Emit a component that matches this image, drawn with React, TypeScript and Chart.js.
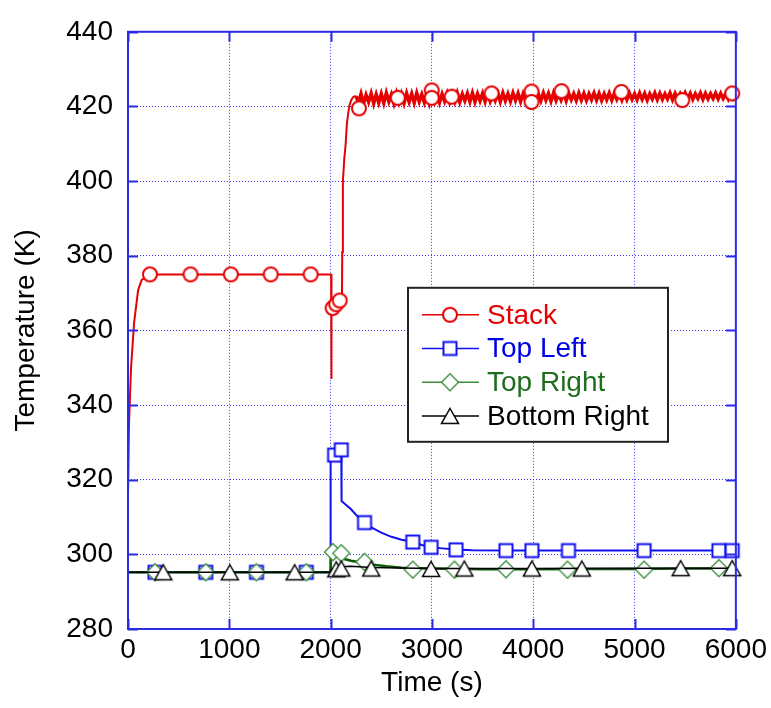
import { useEffect, useRef } from 'react';
import { Chart, registerables } from 'chart.js';

Chart.register(...registerables);

// ---------------- data ----------------
const seriesNames = ['Stack', 'Top Left', 'Top Right', 'Bottom Right'];
const timeTicks = [0, 1000, 2000, 3000, 4000, 5000, 6000];
const tempTicks = [280, 300, 320, 340, 360, 380, 400, 420, 440];

// Stack (red, circles)
const stackLineTime = [
  0, 10, 30, 60, 100, 135, 217, 600, 1000, 1400, 1800, 2005, 2007, 2010, 2020, 2055, 2090, 2112,
  2115, 2121, 2135, 2148, 2161, 2175, 2187, 2205, 2225,
  2250, 2275, 2300, 2325, 2350, 2375, 2400, 2425, 2450, 2475,
  2500, 2525, 2550, 2575, 2600, 2625, 2650, 2675, 2700, 2725,
  2750, 2775, 2800, 2825, 2850, 2875, 2900, 2925, 2950, 2975,
  3000, 3025, 3050, 3075, 3100, 3125, 3150, 3175, 3200, 3225,
  3250, 3275, 3300, 3325, 3350, 3375, 3400, 3425, 3450, 3475,
  3500, 3525, 3550, 3575, 3600, 3625, 3650, 3675, 3700, 3725,
  3750, 3775, 3800, 3825, 3850, 3875, 3900, 3925, 3950, 3975,
  4000, 4025, 4050, 4075, 4100, 4125, 4150, 4175, 4200, 4225,
  4250, 4275, 4300, 4325, 4350, 4375, 4400, 4425, 4450, 4475,
  4500, 4525, 4550, 4575, 4600, 4625, 4650, 4675, 4700, 4725,
  4750, 4775, 4800, 4825, 4850, 4875, 4900, 4925, 4950, 4975,
  5000, 5025, 5050, 5075, 5100, 5125, 5150, 5175, 5200, 5225,
  5250, 5275, 5300, 5325, 5350, 5375, 5400, 5425, 5450, 5475,
  5500, 5525, 5550, 5575, 5600, 5625, 5650, 5675, 5700, 5725,
  5750, 5775, 5800, 5825, 5850, 5875, 5900, 5925, 5950, 5975,
  6000,
];
const stackLineTemp = [
  316, 335, 350, 362, 370.8, 373.5, 375, 375, 375, 375, 375, 375, 347, 364, 366, 367, 368, 369,
  381, 400, 406, 409.8, 415.5, 418.5, 420.4, 421.8, 422.6,
  422.8, 421.0, 423.4, 420.7, 423.1, 421.2, 423.5, 420.8, 423.2, 421.0,
  423.4, 420.9, 423.6, 421.3, 423.2, 420.8, 423.5, 421.1, 423.3, 420.9,
  423.5, 421.2, 423.4, 421.0, 423.6, 421.3, 423.2, 421.1, 423.5, 420.9,
  423.4, 421.3, 423.6, 421.1, 423.3, 421.4, 423.5, 421.2, 423.4, 421.3,
  423.6, 421.2, 423.3, 421.5, 423.5, 421.3, 423.6, 421.2, 423.4, 421.5,
  423.5, 421.3, 423.6, 421.4, 423.3, 421.6, 423.5, 421.3, 423.6, 421.5,
  423.4, 421.4, 423.6, 421.6, 423.5, 421.3, 423.4, 421.6, 423.6, 421.4,
  423.5, 421.6, 423.4, 421.5, 423.6, 421.7, 423.5, 421.4, 423.6, 421.6,
  423.4, 421.7, 423.6, 421.5, 423.5, 421.8, 423.4, 421.6, 423.6, 421.7,
  423.5, 421.6, 423.4, 421.8, 423.6, 421.7, 423.5, 421.6, 423.4, 421.8,
  423.6, 421.7, 423.5, 421.9, 423.4, 421.7, 423.6, 421.8, 423.5, 421.9,
  423.4, 421.8, 423.6, 421.9, 423.5, 421.7, 423.4, 422.0, 423.6, 421.8,
  423.5, 421.9, 423.4, 422.0, 423.6, 421.8, 423.5, 422.0, 423.4, 421.9,
  423.6, 422.0, 423.5, 421.9, 423.4, 422.1, 423.6, 421.9, 423.5, 422.0,
  423.4, 422.1, 423.6, 422.0, 423.5, 422.1, 423.4, 422.0, 423.6, 422.1,
  423.0,
];
const stackMarkTime = [217, 617, 1015, 1409, 1803, 2020, 2055, 2090, 2279, 2663, 2998, 2998, 3195, 3589, 3983, 3983, 4279, 4870, 5471, 5964];
const stackMarkTemp = [375, 375, 375, 375, 375, 366, 367, 368, 419.5, 422.3, 424.3, 422.3, 422.6, 423.5, 424.0, 421.2, 424.1, 423.9, 421.7, 423.5];

// Top Left (blue, squares)
const topLeftLineTime = [0, 1999, 2000, 2039, 2105, 2108, 2150, 2197, 2250, 2335, 2401, 2500, 2600, 2700, 2811, 2900, 2992, 3100, 3238, 3400, 3731, 4500, 6000];
const topLeftLineTemp = [295.2, 295.2, 326, 326.6, 328, 314.3, 313.3, 312.2, 310.6, 308.5, 307.2, 305.8, 304.7, 303.9, 303.3, 302.5, 301.9, 301.6, 301.3, 301.1, 301.0, 301.0, 301.0];
const topLeftMarkTime = [266, 768, 1268, 1760, 2039, 2105, 2335, 2811, 2992, 3238, 3731, 3987, 4348, 5094, 5833, 5964];
const topLeftMarkTemp = [295.2, 295.2, 295.2, 295.2, 326.6, 328.0, 308.5, 303.3, 301.9, 301.2, 301.0, 301.0, 301.0, 301.0, 301.0, 301.0];

// Top Right (green, diamonds)
const topRightLineTime = [0, 1999, 2005, 2023, 2060, 2100, 2200, 2300, 2400, 2550, 2700, 3000, 3500, 4000, 4500, 5000, 5500, 6000];
const topRightLineTemp = [295.2, 295.2, 300.8, 300.5, 300.0, 299.0, 298.3, 297.8, 297.3, 296.8, 296.4, 296.2, 296.0, 296.0, 296.1, 296.1, 296.2, 296.2];
const topRightMarkTime = [266, 768, 1268, 1760, 2023, 2105, 2335, 2811, 3222, 3731, 4338, 5094, 5833];
const topRightMarkTemp = [295.2, 295.2, 295.2, 295.2, 300.6, 300.3, 298.0, 295.9, 295.9, 296.0, 295.9, 295.9, 296.3];

// Bottom Right (black, triangles)
const bottomRightLineTime = [0, 1999, 2010, 2056, 2105, 2200, 2400, 3000, 4000, 5000, 6000];
const bottomRightLineTemp = [295.2, 295.2, 296.0, 296.3, 296.7, 296.8, 296.5, 296.2, 296.2, 296.3, 296.3];
const bottomRightMarkTime = [348, 1005, 1645, 2056, 2105, 2401, 2992, 3320, 3987, 4480, 5455, 5964];
const bottomRightMarkTemp = [295.2, 295.2, 295.2, 296.0, 296.2, 296.2, 296.1, 296.2, 296.2, 296.2, 296.3, 296.3];

// ---------------- styles ----------------
const FONT_FAMILY = '"Liberation Sans", Arial, Helvetica, sans-serif';
const RED = '#e60000';
const BLUE = '#1010f0';
const GREEN_MARK = '#3c8c3c';
const GREEN_LINE = '#0a5c0a';
const BLACK = '#000000';
const AXIS = '#2b2be6';
const GRID = '#3a3af2';
const NOISY_FROM = 2240;

function pts(xs: number[], ys: number[]) {
  return xs.map((x, i) => ({ x, y: ys[i] }));
}

function makeMarker(kind: string, stroke: string, lw: number) {
  const c = document.createElement('canvas');
  c.width = 22;
  c.height = 22;
  const g = c.getContext('2d')!;
  const m = 11;
  g.lineWidth = lw;
  g.strokeStyle = stroke;
  g.fillStyle = '#ffffff';
  g.beginPath();
  if (kind === 'circle') {
    g.arc(m, m, 7, 0, Math.PI * 2);
  } else if (kind === 'square') {
    g.rect(m - 6.5, m - 6.5, 13, 13);
  } else if (kind === 'diamond') {
    g.moveTo(m, m - 8.5);
    g.lineTo(m + 8.5, m);
    g.lineTo(m, m + 8.5);
    g.lineTo(m - 8.5, m);
    g.closePath();
  } else {
    g.moveTo(m, m - 7.5);
    g.lineTo(m + 8.5, m + 7.5);
    g.lineTo(m - 8.5, m + 7.5);
    g.closePath();
  }
  g.fill();
  g.stroke();
  return c;
}

export default function App() {
  const ref = useRef<HTMLCanvasElement>(null);

  useEffect(() => {
    const canvas = ref.current!;
    const markers = {
      circle: makeMarker('circle', RED, 2),
      square: makeMarker('square', BLUE, 2),
      diamond: makeMarker('diamond', GREEN_MARK, 1.3),
      triangle: makeMarker('triangle', BLACK, 1.5),
    };

    const legendItems = [
      { label: seriesNames[0], line: RED, text: RED, marker: markers.circle },
      { label: seriesNames[1], line: BLUE, text: '#0000e6', marker: markers.square },
      { label: seriesNames[2], line: GREEN_MARK, text: '#1f6e1f', marker: markers.diamond },
      { label: seriesNames[3], line: BLACK, text: BLACK, marker: markers.triangle },
    ];

    const framePlugin = {
      id: 'frame',
      afterDatasetsDraw(chart: any) {
        const { ctx, chartArea, scales } = chart;
        const { left, right, top, bottom } = chartArea;
        ctx.save();
        ctx.strokeStyle = AXIS;
        ctx.lineWidth = 2;
        ctx.strokeRect(left, top, right - left, bottom - top);
        ctx.beginPath();
        for (const t of scales.x.ticks) {
          const px = Math.round(scales.x.getPixelForValue(t.value)) + 0.5;
          ctx.moveTo(px, bottom);
          ctx.lineTo(px, bottom - 10);
          ctx.moveTo(px, top);
          ctx.lineTo(px, top + 10);
        }
        for (const t of scales.y.ticks) {
          const py = Math.round(scales.y.getPixelForValue(t.value)) + 0.5;
          ctx.moveTo(left, py);
          ctx.lineTo(left + 10, py);
          ctx.moveTo(right, py);
          ctx.lineTo(right - 10, py);
        }
        ctx.stroke();
        ctx.restore();
      },
    };

    const legendPlugin = {
      id: 'customLegend',
      afterDraw(chart: any) {
        const { ctx, chartArea } = chart;
        const bx = chartArea.left + 280;
        const by = chartArea.top + 256;
        const bw = 260;
        const bh = 154;
        ctx.save();
        ctx.fillStyle = '#ffffff';
        ctx.fillRect(bx, by, bw, bh);
        ctx.strokeStyle = '#222222';
        ctx.lineWidth = 2;
        ctx.strokeRect(bx, by, bw, bh);
        ctx.font = `28px ${FONT_FAMILY}`;
        ctx.textBaseline = 'middle';
        ctx.textAlign = 'left';
        legendItems.forEach((it, i) => {
          const cy = by + 27 + i * 33.7;
          ctx.strokeStyle = it.line;
          ctx.lineWidth = 1.5;
          ctx.beginPath();
          ctx.moveTo(bx + 14, cy);
          ctx.lineTo(bx + 71, cy);
          ctx.stroke();
          ctx.drawImage(it.marker, bx + 42 - 11, cy - 11);
          ctx.fillStyle = it.text;
          ctx.fillText(it.label, bx + 79, cy + 1);
        });
        ctx.restore();
      },
    };

    const lineDs = (label: string, xs: number[], ys: number[], color: string, width: number, order: number, extra: any = {}) => ({
      label,
      data: pts(xs, ys),
      showLine: true,
      borderColor: color,
      backgroundColor: color,
      borderWidth: width,
      pointRadius: 0,
      pointHoverRadius: 0,
      tension: 0,
      order,
      ...extra,
    });
    const markDs = (label: string, xs: number[], ys: number[], style: any, order: number) => ({
      label,
      data: pts(xs, ys),
      showLine: false,
      pointStyle: style,
      pointRadius: 8,
      pointHoverRadius: 8,
      clip: false,
      order,
    });

    const font = { family: FONT_FAMILY, size: 28 };

    const chart = new Chart(canvas, {
      type: 'scatter',
      data: {
        datasets: [
          markDs(seriesNames[0] + ' markers', stackMarkTime, stackMarkTemp, markers.circle, 0),
          lineDs(seriesNames[0], stackLineTime, stackLineTemp, RED, 2, 1, {
            segment: { borderWidth: (c: any) => (c.p0.parsed.x >= NOISY_FROM ? 3.5 : 2) },
          }),
          markDs(seriesNames[3] + ' markers', bottomRightMarkTime, bottomRightMarkTemp, markers.triangle, 2),
          lineDs(seriesNames[3], bottomRightLineTime, bottomRightLineTemp, BLACK, 1.5, 3),
          markDs(seriesNames[2] + ' markers', topRightMarkTime, topRightMarkTemp, markers.diamond, 4),
          lineDs(seriesNames[2], topRightLineTime, topRightLineTemp, GREEN_LINE, 2.5, 5),
          markDs(seriesNames[1] + ' markers', topLeftMarkTime, topLeftMarkTemp, markers.square, 6),
          lineDs(seriesNames[1], topLeftLineTime, topLeftLineTemp, BLUE, 2, 7),
        ] as any,
      },
      options: {
        responsive: false,
        animation: false,
        events: [],
        layout: { padding: { top: 26, right: 34, bottom: 0, left: 0 } },
        plugins: {
          legend: { display: false },
          tooltip: { enabled: false },
        },
        scales: {
          x: {
            type: 'linear',
            min: 0,
            max: 6000,
            afterBuildTicks: (s: any) => {
              s.ticks = timeTicks.map((v) => ({ value: v }));
            },
            afterFit: (s: any) => {
              s.height = 79;
            },
            ticks: { font, color: BLACK, padding: 4, maxRotation: 0, autoSkip: false, callback: (v: any) => String(v) },
            grid: { color: GRID, lineWidth: 1, drawTicks: false },
            border: { display: false, dash: [1, 2] },
            title: { display: true, text: 'Time (s)', font, color: BLACK, padding: { top: 0, bottom: 8 } },
          },
          y: {
            type: 'linear',
            min: 280,
            max: 440,
            afterBuildTicks: (s: any) => {
              s.ticks = tempTicks.map((v) => ({ value: v }));
            },
            afterFit: (s: any) => {
              s.width = 128;
            },
            ticks: { font, color: BLACK, padding: 15, autoSkip: false, callback: (v: any) => String(v) },
            grid: { color: GRID, lineWidth: 1, drawTicks: false },
            border: { display: false, dash: [1, 2] },
            title: { display: true, text: 'Temperature (K)', font, color: BLACK, padding: { top: 9, bottom: 0 } },
          },
        },
      } as any,
      plugins: [framePlugin, legendPlugin],
    });

    return () => chart.destroy();
  }, []);

  return (
    <div style={{ position: 'fixed', left: 0, top: 0, width: 771, height: 708, background: '#ffffff' }}>
      <canvas ref={ref} width={771} height={708} style={{ display: 'block', width: 771, height: 708 }} />
    </div>
  );
}
